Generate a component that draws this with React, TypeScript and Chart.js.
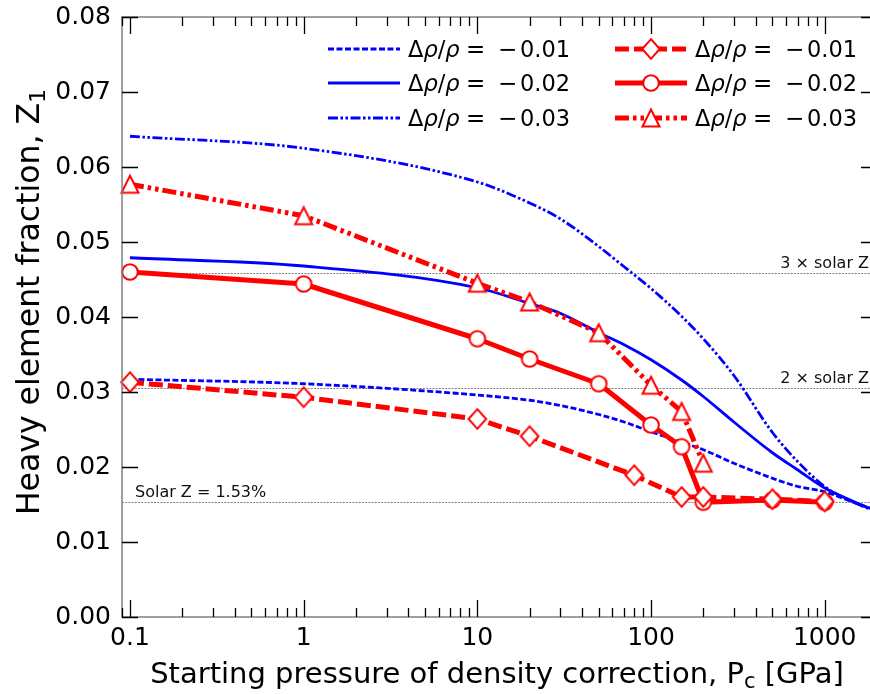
import React, { useEffect, useRef } from "react";
import { Chart, registerables } from "chart.js";

Chart.register(...registerables);

// ---------- data ----------
const xTickValues = [0.1, 1, 10, 100, 1000];
const yTickValues = [0, 0.01, 0.02, 0.03, 0.04, 0.05, 0.06, 0.07, 0.08];

// blue curves (-0.01, -0.02, -0.03)
const blueX = [0.1, 1, 10, 20, 30, 50, 70, 100, 150, 200, 300, 500, 700, 1000, 1500, 2000];
const blue001 = [0.0317, 0.0311, 0.0296, 0.0289, 0.0282, 0.027, 0.026, 0.0247, 0.0233, 0.0223, 0.0205, 0.0185, 0.0174, 0.0167, 0.0152, 0.0142];
const blue002 = [0.0479, 0.0468, 0.0439, 0.0418, 0.0405, 0.0379, 0.0363, 0.0343, 0.0316, 0.0294, 0.026, 0.0219, 0.0196, 0.0172, 0.0153, 0.0141];
const blue003 = [0.0641, 0.0625, 0.058, 0.0552, 0.0531, 0.0494, 0.0467, 0.0438, 0.0401, 0.0371, 0.0322, 0.0246, 0.0207, 0.0174, 0.0152, 0.014];

// red curves with markers
const redX001 = [0.1, 1, 10, 20, 80, 150, 200, 500, 1000];
const red001 = [0.0313, 0.0293, 0.0264, 0.0241, 0.0189, 0.016, 0.016, 0.0157, 0.0154];
const redX002 = [0.1, 1, 10, 20, 50, 100, 150, 200, 500, 1000];
const red002 = [0.046, 0.0444, 0.0371, 0.0344, 0.0311, 0.0256, 0.0227, 0.0153, 0.0156, 0.0153];
const redX003 = [0.1, 1, 10, 20, 50, 100, 150, 200];
const red003 = [0.0577, 0.0535, 0.0445, 0.042, 0.0379, 0.0309, 0.0274, 0.0205];

const legendValues = ["0.01", "0.02", "0.03"];

const refLines = [0.0153, 0.0306, 0.0459];
const refLabels = ["Solar Z = 1.53%", "2 × solar Z", "3 × solar Z"];

const xTitle = ["Starting pressure of density correction, P", "c", " [GPa]"];
const yTitle = ["Heavy element fraction, Z", "1"];

// ---------- styles ----------
const BLUE = "#0000ff";
const RED = "#ff0000";
const FONT = "'DejaVu Sans', 'Liberation Sans', sans-serif";

function pts(xs: number[], ys: number[]) {
  return xs.map((x, i) => ({ x, y: ys[i] }));
}

function makeMarker(kind: string): HTMLCanvasElement {
  const c = document.createElement("canvas");
  const S = 28;
  c.width = S;
  c.height = S;
  const g = c.getContext("2d")!;
  const m = S / 2;
  g.lineWidth = 2;
  g.strokeStyle = RED;
  g.fillStyle = "#ffffff";
  g.lineJoin = "miter";
  g.beginPath();
  if (kind === "circle") {
    g.arc(m, m, 7.8, 0, Math.PI * 2);
  } else if (kind === "diamond") {
    g.moveTo(m, m - 9.8);
    g.lineTo(m + 8.8, m);
    g.lineTo(m, m + 9.8);
    g.lineTo(m - 8.8, m);
    g.closePath();
  } else {
    g.moveTo(m, m - 8.5);
    g.lineTo(m + 8.5, m + 8.5);
    g.lineTo(m - 8.5, m + 8.5);
    g.closePath();
  }
  g.fill();
  g.stroke();
  return c;
}

export default function App() {
  const ref = useRef<HTMLCanvasElement>(null);

  useEffect(() => {
    const canvas = ref.current!;
    const mDiamond = makeMarker("diamond");
    const mCircle = makeMarker("circle");
    const mTriangle = makeMarker("triangle");

    const red = (data: any, dash: number[], marker: HTMLCanvasElement) => ({
      data,
      borderColor: RED,
      backgroundColor: RED,
      borderWidth: 5,
      borderDash: dash,
      borderCapStyle: "butt",
      borderJoinStyle: "round",
      pointStyle: marker,
      pointRadius: 9,
      pointHoverRadius: 9,
      fill: false,
      tension: 0,
      clip: false,
    });
    const blue = (data: any, dash: number[]) => ({
      data,
      borderColor: BLUE,
      backgroundColor: BLUE,
      borderWidth: 2.8,
      borderDash: dash,
      borderCapStyle: "butt",
      borderJoinStyle: "round",
      pointRadius: 0,
      pointHoverRadius: 0,
      fill: false,
      cubicInterpolationMode: "monotone",
      clip: false,
    });

    const dashes = {
      b1: [6, 2.5],
      b2: [] as number[],
      b3: [10, 2.5, 2.5, 2.5, 2.5, 2.5],
      r1: [14, 5],
      r2: [] as number[],
      r3: [14, 4, 3.5, 4, 3.5, 4],
    };

    const datasets: any[] = [
      red(pts(redX001, red001), dashes.r1, mDiamond),
      red(pts(redX002, red002), dashes.r2, mCircle),
      red(pts(redX003, red003), dashes.r3, mTriangle),
      blue(pts(blueX, blue001), dashes.b1),
      blue(pts(blueX, blue002), dashes.b2),
      blue(pts(blueX, blue003), dashes.b3),
    ];

    const decor = {
      id: "decor",
      beforeDatasetsDraw(chart: any) {
        const ctx = chart.ctx as CanvasRenderingContext2D;
        const { left, right } = chart.chartArea;
        const ys = chart.scales.y;
        ctx.save();
        ctx.strokeStyle = "#808080";
        ctx.lineWidth = 1;
        ctx.setLineDash([2, 1.2]);
        refLines.forEach((v) => {
          const py = Math.round(ys.getPixelForValue(v)) + 0.5;
          ctx.beginPath();
          ctx.moveTo(left, py);
          ctx.lineTo(right, py);
          ctx.stroke();
        });
        ctx.setLineDash([]);
        ctx.fillStyle = "#111";
        ctx.font = `16px ${FONT}`;
        ctx.textBaseline = "alphabetic";
        refLines.forEach((v, i) => {
          const py = ys.getPixelForValue(v);
          if (i === 0) {
            ctx.textAlign = "left";
            ctx.fillText(refLabels[i], left + 13, py - 5);
          } else {
            ctx.textAlign = "right";
            ctx.fillText(refLabels[i], 869, py - 5);
          }
        });
        ctx.restore();
      },
      afterDraw(chart: any) {
        const ctx = chart.ctx as CanvasRenderingContext2D;
        const { left, right, top, bottom } = chart.chartArea;
        const xs = chart.scales.x;
        const ys = chart.scales.y;
        ctx.save();
        // frame
        ctx.strokeStyle = "#808080";
        ctx.lineWidth = 1.5;
        ctx.strokeRect(left, top, right - left, bottom - top);
        // ticks
        ctx.strokeStyle = "#000";
        ctx.lineWidth = 1.3;
        ctx.beginPath();
        for (let d = -2; d <= 3; d++) {
          for (let k = 1; k <= 9; k++) {
            const v = k * Math.pow(10, d);
            if (v < xs.min * 0.999 || v > xs.max * 1.001) continue;
            const px = Math.round(xs.getPixelForValue(v)) + 0.5;
            const len = k === 1 ? 17 : 9;
            ctx.moveTo(px, bottom);
            ctx.lineTo(px, bottom - len);
            ctx.moveTo(px, top);
            ctx.lineTo(px, top + len);
          }
        }
        yTickValues.forEach((v) => {
          const py = Math.round(ys.getPixelForValue(v)) + 0.5;
          ctx.moveTo(left, py);
          ctx.lineTo(left + 16, py);
          ctx.moveTo(right, py);
          ctx.lineTo(right - 16, py);
        });
        ctx.stroke();

        // legend
        const rows = [49, 83, 118];
        const drawEntry = (ds: any, x1: number, x2: number, y: number, tx: number, val: string) => {
          ctx.save();
          ctx.strokeStyle = ds.borderColor;
          ctx.lineWidth = ds.borderWidth;
          ctx.setLineDash(ds.borderDash || []);
          ctx.lineCap = "butt";
          ctx.beginPath();
          ctx.moveTo(x1, y);
          ctx.lineTo(x2, y);
          ctx.stroke();
          ctx.restore();
          if (ds.pointStyle && typeof ds.pointStyle === "object") {
            const img = ds.pointStyle as HTMLCanvasElement;
            ctx.drawImage(img, (x1 + x2) / 2 - img.width / 2, y - img.height / 2);
          }
          ctx.fillStyle = "#000";
          ctx.textBaseline = "alphabetic";
          ctx.textAlign = "left";
          const base = y + 8;
          let cx = tx;
          const seg = (s: string, italic: boolean) => {
            ctx.font = `${italic ? "italic " : ""}22.5px ${FONT}`;
            ctx.fillText(s, cx, base);
            cx += ctx.measureText(s).width;
          };
          seg("Δ", false);
          seg("ρ", true);
          seg("/", false);
          seg("ρ", true);
          ctx.font = `23px ${FONT}`;
          ctx.fillText("=", tx + 58, base);
          ctx.fillText("−", tx + 90, base);
          ctx.font = `22.5px ${FONT}`;
          ctx.fillText(val, tx + 112, base);
        };
        for (let i = 0; i < 3; i++) {
          drawEntry(datasets[3 + i], 328, 400, rows[i], 408, legendValues[i]);
          drawEntry(datasets[i], 615, 687, rows[i], 695, legendValues[i]);
        }

        // axis titles
        ctx.fillStyle = "#000";
        ctx.textBaseline = "alphabetic";
        ctx.textAlign = "left";
        // x title
        {
          const big = `29px ${FONT}`;
          const small = `21px ${FONT}`;
          ctx.font = big;
          const w0 = ctx.measureText(xTitle[0]).width;
          const w2 = ctx.measureText(xTitle[2]).width;
          ctx.font = small;
          const w1 = ctx.measureText(xTitle[1]).width;
          const total = w0 + w1 + w2;
          let x = 497 - total / 2;
          const base = 683;
          ctx.font = big;
          ctx.fillText(xTitle[0], x, base);
          x += w0;
          ctx.font = small;
          ctx.fillText(xTitle[1], x, base + 5);
          x += w1;
          ctx.font = big;
          ctx.fillText(xTitle[2], x, base);
        }
        // y title
        {
          ctx.save();
          ctx.translate(39, 302);
          ctx.rotate(-Math.PI / 2);
          const big = `31.5px ${FONT}`;
          const small = `22px ${FONT}`;
          ctx.font = big;
          const w0 = ctx.measureText(yTitle[0]).width;
          ctx.font = small;
          const w1 = ctx.measureText(yTitle[1]).width;
          let x = -(w0 + w1) / 2;
          ctx.font = big;
          ctx.fillText(yTitle[0], x, 0);
          x += w0;
          ctx.font = small;
          ctx.fillText(yTitle[1], x, 6);
          ctx.restore();
        }
        ctx.restore();
      },
    };

    const chart = new Chart(canvas, {
      type: "line",
      data: { datasets },
      options: {
        responsive: false,
        animation: false,
        devicePixelRatio: 1,
        events: [],
        layout: { autoPadding: false, padding: { top: 17, right: 3, left: 0, bottom: 0 } },
        plugins: {
          legend: { display: false },
          tooltip: { enabled: false },
          title: { display: false },
        },
        scales: {
          x: {
            type: "logarithmic",
            min: 0.09,
            max: 2000,
            grid: { display: false, drawTicks: false },
            border: { display: false },
            ticks: {
              autoSkip: false,
              maxRotation: 0,
              padding: 6,
              color: "#000",
              font: { family: FONT, size: 25 },
              callback: (v: any) => String(v),
            },
            afterBuildTicks: (s: any) => {
              s.ticks = xTickValues.map((v) => ({ value: v }));
            },
            afterFit: (s: any) => {
              s.height = 77;
              s.paddingLeft = 0;
              s.paddingRight = 0;
            },
          },
          y: {
            type: "linear",
            min: 0,
            max: 0.08,
            grid: { display: false, drawTicks: false },
            border: { display: false },
            ticks: {
              autoSkip: false,
              padding: 11,
              color: "#000",
              font: { family: FONT, size: 25 },
              callback: (v: any) => Number(v).toFixed(2),
            },
            afterBuildTicks: (s: any) => {
              s.ticks = yTickValues.map((v) => ({ value: v }));
            },
            afterFit: (s: any) => {
              s.width = 122;
              s.paddingTop = 0;
              s.paddingBottom = 0;
            },
          },
        },
      } as any,
      plugins: [decor],
    });
    return () => chart.destroy();
  }, []);

  return (
    <div
      style={{
        position: "absolute",
        left: 0,
        top: 0,
        width: 870,
        height: 694,
        overflow: "hidden",
        background: "#fff",
      }}
    >
      <canvas ref={ref} width={880} height={694} style={{ display: "block", width: 880, height: 694 }} />
    </div>
  );
}
